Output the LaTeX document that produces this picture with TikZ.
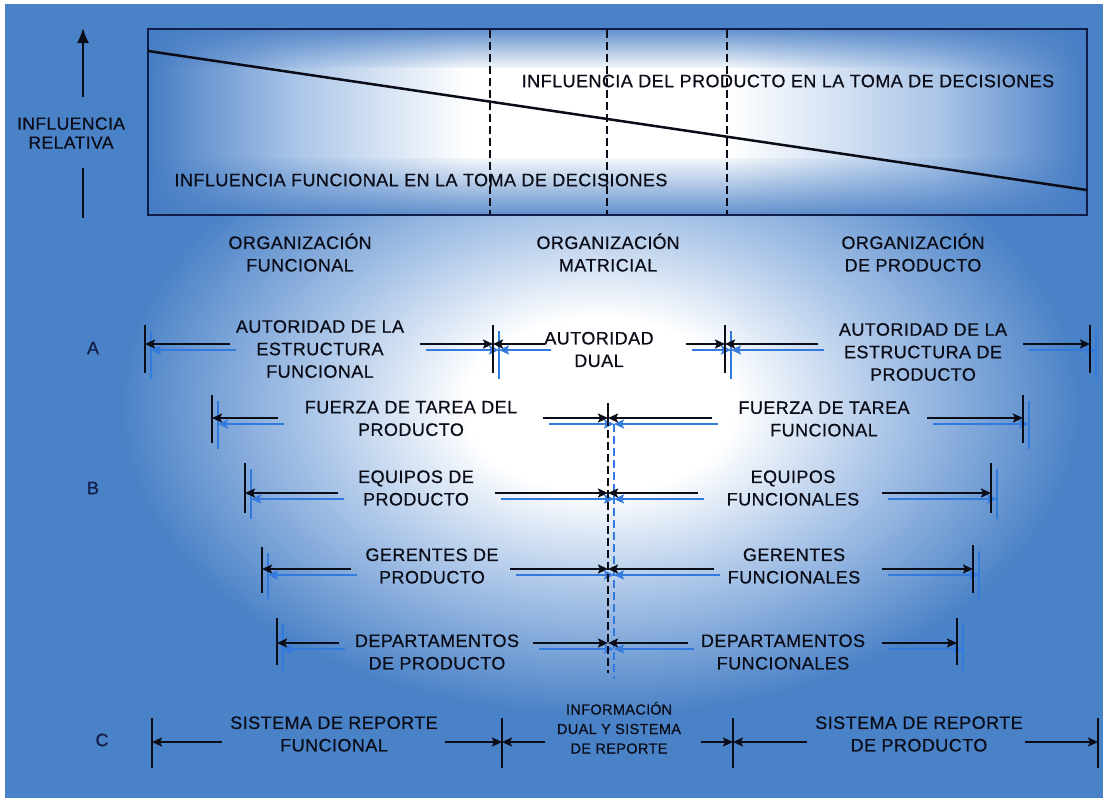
\documentclass[tikz,border=0pt]{standalone}
\usepackage{fontspec}
\usetikzlibrary{arrows.meta,fadings}
\newfontfamily\lf[LetterSpace=2.5,FakeBold=0.6]{Liberation Sans}
\definecolor{bgblue}{RGB}{74,130,199}
\definecolor{boxblue}{RGB}{70,125,196}
\definecolor{shblue}{RGB}{50,122,222}
\definecolor{inkc}{RGB}{10,12,24}
\definecolor{navy}{RGB}{18,28,72}
\definecolor{glowmid}{RGB}{172,198,232}
\pgfdeclareradialshading{glow}{\pgfpoint{0bp}{0bp}}{color(0bp)=(white); color(7bp)=(white); color(15bp)=(glowmid); color(25bp)=(bgblue); color(50bp)=(bgblue)}
\pgfdeclarehorizontalshading{boxsh}{100bp}{color(0bp)=(boxblue); color(25bp)=(boxblue); color(33bp)=(glowmid); color(42bp)=(white); color(56bp)=(white); color(67bp)=(glowmid); color(75bp)=(boxblue); color(100bp)=(boxblue)}
\begin{tikzfadingfrompicture}[name=topband]
\shade[top color=transparent!0, bottom color=transparent!100] (-1,-1) rectangle (1,1);
\end{tikzfadingfrompicture}
\begin{tikzfadingfrompicture}[name=botband]
\shade[top color=transparent!100, bottom color=transparent!0] (-1,-1) rectangle (1,1);
\end{tikzfadingfrompicture}
\tikzset{
  ln/.style={draw=inkc, line width=2pt},
  tip/.style={-{Stealth[length=10pt,width=9pt,inset=2pt]}},
  dim/.style={ln, tip},
  shd/.style={draw=shblue, line width=2pt, transform canvas={shift={(6pt,-6pt)}}},
  dims/.style={shd, tip},
  dashln/.style={draw=inkc, line width=1.6pt, dash pattern=on 8pt off 4pt},
  txt/.style={font=\lf\fontsize{18}{22.5}\selectfont, text=inkc, align=center, inner sep=0pt},
  small/.style={txt, font=\lf\fontsize{14.5}{19.5}\selectfont},
  rowlbl/.style={txt, font=\lf\fontsize{18}{19}\selectfont, text=navy}
}
\begin{document}
\begin{tikzpicture}[x=1pt,y=-1pt]
\useasboundingbox (0,0) rectangle (1103,798);
% background
\fill[white] (0,0) rectangle (1103,798);
\fill[bgblue] (5,4) rectangle (1103,798);
\shade[shading=glow] (600,405) ellipse [x radius=480, y radius=310];
% top box
\shade[shading=boxsh] (148,29) rectangle (1087,215);
\fill[boxblue, path fading=topband, fit fading=true, opacity=0.9] (148,29) rectangle (1087,68);
\fill[boxblue, path fading=botband, fit fading=true, opacity=0.9] (148,158) rectangle (1087,215);
\draw[navy, line width=2.2pt] (148,29) rectangle (1087,215);
\coordinate (dl) at (148,51); \coordinate (dr) at (1087,190);
\draw[inkc, line width=2.5pt] (dl) -- (dr);
\foreach \x/\n in {490/1,607/2,727/3}{
  \coordinate (v\n t) at (\x,30); \coordinate (v\n b) at (\x,214);
  \draw[dashln] (v\n t) -- (v\n b);
}
\node[txt] (prod) at (788,81) {INFLUENCIA DEL PRODUCTO EN LA TOMA DE DECISIONES};
\node[txt] (func) at (421,180) {INFLUENCIA FUNCIONAL EN LA TOMA DE DECISIONES};
% vertical axis
\node[txt, font=\lf\fontsize{17.5}{19}\selectfont] (rel) at (71,133) {INFLUENCIA\\RELATIVA};
\coordinate (ua0) at (83,97); \coordinate (ua1) at (83,28);
\coordinate (ub0) at (83,168); \coordinate (ub1) at (83,218);
\draw[ln, -{Latex[length=15pt,width=12pt]}] (ua0) -- (ua1);
\draw[ln] (ub0) -- (ub1);
% organisation labels
\node[txt] (o1) at (300,254) {ORGANIZACI\smash{Ó}N\\FUNCIONAL};
\node[txt] (o2) at (608,254) {ORGANIZACI\smash{Ó}N\\MATRICIAL};
\node[txt] (o3) at (913,254) {ORGANIZACI\smash{Ó}N\\DE PRODUCTO};
% row letters
\node[rowlbl] (LA) at (93,348) {A};
\node[rowlbl] (LB) at (93,488) {B};
\node[rowlbl] (LC) at (102,740) {C};
% ---- coordinates: ticks
\foreach \n/\x/\y/\u/\d in {tA1/145/344/19/29, tA2/493/344/19/29, tA3/725/344/19/29, tA4/1090/344/19/29,
   tB1/212/418/23/25, J1/608/418/15/0, tB2/1023/418/23/25,
   tB3/245/493/30/20, J2/608/493/0/0, tB4/991/493/30/20,
   tB5/262/569/22/24, J3/608/569/0/0, tB6/973/569/24/24,
   tB7/277/643/25/22, J4/608/643/0/0, tB8/957/643/25/22}{
  \coordinate (\n) at (\x,\y);
  \coordinate (\n u) at (\x,\y-\u);
  \coordinate (\n d) at (\x,\y+\d);
}
\foreach \n/\x/\y in {tC1/152/742, tC2/502/742, tC3/733/742, tC4/1098/742}{
  \coordinate (\n) at (\x,\y);
  \coordinate (\n u) at (\x,\y-24);
  \coordinate (\n d) at (\x,\y+26);
}
% ---- coordinates: segment starts
\foreach \n/\x/\y in {sA1/230/344, sA2/420/344, sA3/545/344, sA4/686/344, sA5/818/344, sA6/1023/344,
   sB1/278/418, sB2/543/418, sB3/712/418, sB4/927/418,
   sB5/338/493, sB6/495/493, sB7/698/493, sB8/882/493,
   sB9/351/569, sB10/510/569, sB11/714/569, sB12/882/569,
   sB13/339/643, sB14/533/643, sB15/688/643, sB16/882/643,
   sC1/222/742, sC2/445/742, sC3/545/742, sC4/701/742, sC5/807/742, sC6/1025/742}{
  \coordinate (\n) at (\x,\y);
}
\coordinate (dEnd) at (608,673);
% ---- shadows (rows A and B)
\foreach \n in {tA1,tA2,tA3,tA4,tB1,tB2,tB3,tB4,tB5,tB6,tB7,tB8}{\draw[shd] (\n u) -- (\n d);}
\draw[shd, dash pattern=on 8pt off 4pt, line width=1.6pt] (J1) -- (dEnd);
\foreach \s/\t in {sA1/tA1, sA2/tA2, sA3/tA2, sA4/tA3, sA5/tA3, sA6/tA4,
   sB1/tB1, sB2/J1, sB3/J1, sB4/tB2, sB5/tB3, sB6/J2, sB7/J2, sB8/tB4,
   sB9/tB5, sB10/J3, sB11/J3, sB12/tB6, sB13/tB7, sB14/J4, sB15/J4, sB16/tB8}{
  \draw[dims] (\s) -- (\t);
}
% ---- black lines
\foreach \n in {tA1,tA2,tA3,tA4,tB1,J1,tB2,tB3,tB4,tB5,tB6,tB7,tB8,tC1,tC2,tC3,tC4}{\draw[ln] (\n u) -- (\n d);}
\draw[dashln] (J1) -- (dEnd);
\foreach \s/\t in {sA1/tA1, sA2/tA2, sA3/tA2, sA4/tA3, sA5/tA3, sA6/tA4,
   sB1/tB1, sB2/J1, sB3/J1, sB4/tB2, sB5/tB3, sB6/J2, sB7/J2, sB8/tB4,
   sB9/tB5, sB10/J3, sB11/J3, sB12/tB6, sB13/tB7, sB14/J4, sB15/J4, sB16/tB8,
   sC1/tC1, sC2/tC2, sC3/tC2, sC4/tC3, sC5/tC3, sC6/tC4}{
  \draw[dim] (\s) -- (\t);
}
% ---- row texts
\node[txt] (A1) at (320,349) {AUTORIDAD DE LA\\ESTRUCTURA\\FUNCIONAL};
\node[txt] (A2) at (599,349.5) {AUTORIDAD\\DUAL};
\node[txt] (A3) at (923,352) {AUTORIDAD DE LA\\ESTRUCTURA DE\\PRODUCTO};
\node[txt] (B1L) at (411,418.5) {FUERZA DE TAREA DEL\\PRODUCTO};
\node[txt] (B1R) at (824,419) {FUERZA DE TAREA\\FUNCIONAL};
\node[txt] (B2L) at (416,488) {EQUIPOS DE\\PRODUCTO};
\node[txt] (B2R) at (793,488) {EQUIPOS\\FUNCIONALES};
\node[txt] (B3L) at (432,566) {GERENTES DE\\PRODUCTO};
\node[txt] (B3R) at (794,566) {GERENTES\\FUNCIONALES};
\node[txt] (B4L) at (437,652) {DEPARTAMENTOS\\DE PRODUCTO};
\node[txt] (B4R) at (783,652) {DEPARTAMENTOS\\FUNCIONALES};
\node[txt] (C1) at (334,734) {SISTEMA DE REPORTE\\FUNCIONAL};
\node[small] (C2) at (619,729) {INFORMACI\smash{Ó}N\\DUAL Y SISTEMA\\DE REPORTE};
\node[txt] (C3) at (919,734) {SISTEMA DE REPORTE\\DE PRODUCTO};
\end{tikzpicture}
\end{document}
